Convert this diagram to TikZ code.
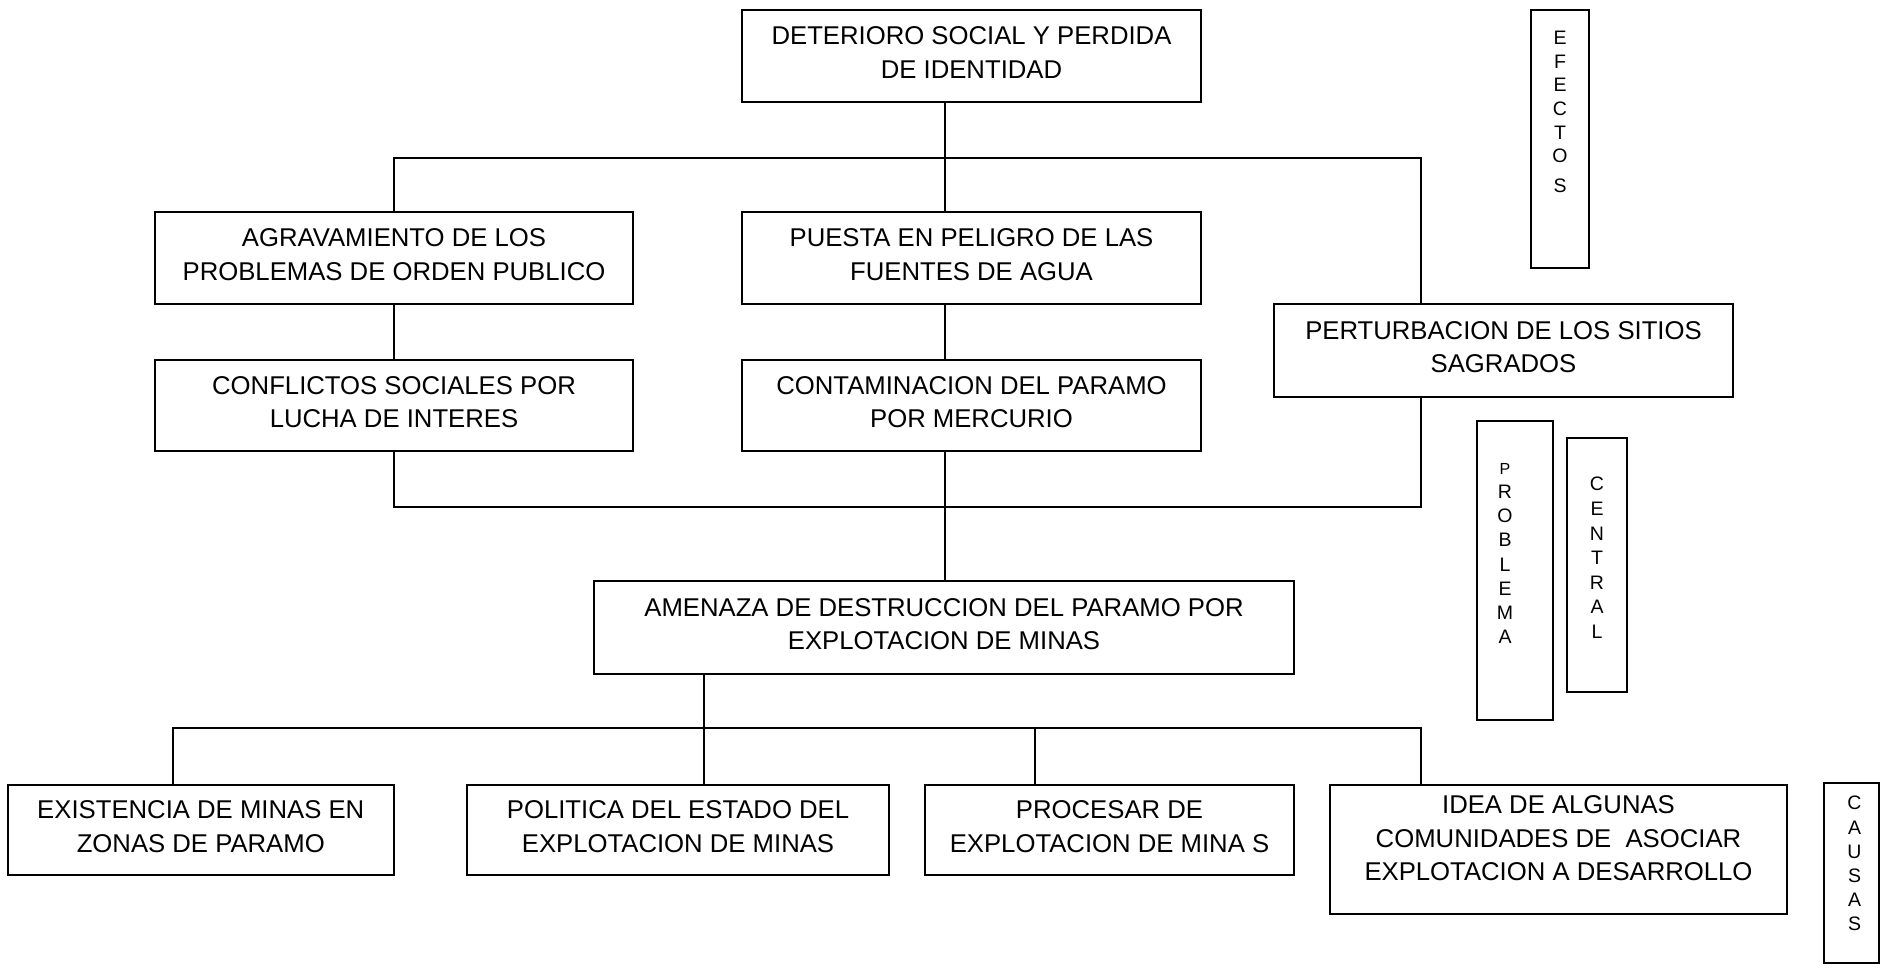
\documentclass[tikz,border=0pt]{standalone}
\usepackage{fontspec}
\setmainfont{Liberation Sans}
\begin{document}
\begin{tikzpicture}[x=1pt,y=-1pt,
  box/.style={draw=black, line width=2pt, fill=white, inner sep=0pt, align=center,
    text depth=7pt, font=\fontsize{25.7}{33.5}\selectfont},
  vbox/.style={draw=black, line width=2pt, inner sep=0pt},
  vtxt/.style={inner sep=0pt, align=center, font=\fontsize{19.5}{24.2}\selectfont},
  conn/.style={draw=black, line width=1.8pt}]
\useasboundingbox (0,0) rectangle (1887,971);

% reference x positions for the connectors
\coordinate (xc) at (945,0);
\coordinate (xr) at (1421,0);
\coordinate (xl) at (394,0);
\coordinate (xa) at (704,0);
\coordinate (xp) at (1035,0);
\coordinate (xe) at (173,0);
\coordinate (y1) at (0,158);
\coordinate (y2) at (0,507);
\coordinate (y3) at (0,728);

% effects
\node[box, minimum width=459, minimum height=92] (det) at (971.5,56)
  {DETERIORO SOCIAL Y PERDIDA\\DE IDENTIDAD};
\node[box, minimum width=478, minimum height=92] (agr) at (394,258)
  {AGRAVAMIENTO DE LOS\\PROBLEMAS DE ORDEN PUBLICO};
\node[box, minimum width=459, minimum height=92] (pue) at (971.5,258)
  {PUESTA EN PELIGRO DE LAS\\FUENTES DE AGUA};
\node[box, minimum width=459, minimum height=93] (per) at (1503.5,350.5)
  {PERTURBACION DE LOS SITIOS\\SAGRADOS};
\node[box, minimum width=478, minimum height=91] (con) at (394,405.5)
  {CONFLICTOS SOCIALES POR\\LUCHA DE INTERES};
\node[box, minimum width=459, minimum height=91] (cmer) at (971.5,405.5)
  {CONTAMINACION DEL PARAMO\\POR MERCURIO};

% central problem
\node[box, minimum width=699.5, minimum height=93] (ame) at (944,627.5)
  {AMENAZA DE DESTRUCCION DEL PARAMO POR\\EXPLOTACION DE MINAS};

% causes
\node[box, minimum width=385.5, minimum height=90] (exi) at (200.75,830)
  {EXISTENCIA DE MINAS EN\\ZONAS DE PARAMO};
\node[box, minimum width=422, minimum height=90] (pol) at (678,830)
  {POLITICA DEL ESTADO DEL\\EXPLOTACION DE MINAS};
\node[box, minimum width=369, minimum height=90] (proc) at (1109.5,830)
  {PROCESAR DE\\EXPLOTACION DE MINA S};
\node[box, minimum width=457, minimum height=129, text depth=22pt] (ide) at (1558.5,849.5)
  {IDEA DE ALGUNAS\\COMUNIDADES DE\ \ ASOCIAR\\EXPLOTACION A DESARROLLO};

% side labels
\node[vbox, minimum width=58, minimum height=258] (efe) at (1560,139) {};
\node[vtxt, anchor=north, font=\fontsize{19.5}{23.6}\selectfont] (efeT) at ([yshift=-22]efe.north)
  {E\\F\\E\\C\\T\\O\\[6pt]S};
\node[vbox, minimum width=76, minimum height=299] (prob) at (1515,570.5) {};
\node[vtxt, anchor=north] (probT) at ([xshift=-10,yshift=-43]prob.north)
  {{\fontsize{16}{20}\selectfont P}\\R\\O\\B\\L\\E\\M\\A};
\node[vbox, minimum width=60, minimum height=254] (cen) at (1597,565) {};
\node[vtxt, anchor=north, font=\fontsize{19.5}{24.6}\selectfont] (cenT) at ([yshift=-40]cen.north)
  {C\\E\\N\\T\\R\\A\\L};
\node[vbox, minimum width=55, minimum height=180] (cau) at (1851.5,873) {};
\node[vtxt, anchor=north] (cauT) at ([xshift=3,yshift=-14]cau.north)
  {C\\A\\U\\S\\A\\S};

% connectors: effects
\draw[conn] (det.south -| xc) -- (pue.north -| xc);
\draw[conn] (agr.north -| xl) -- (xl |- y1) -- (xr |- y1) -- (per.north -| xr);
\draw[conn] (agr.south -| xl) -- (con.north -| xl);
\draw[conn] (pue.south -| xc) -- (cmer.north -| xc);
\draw[conn] (con.south -| xl) -- (xl |- y2) -- (xr |- y2) -- (per.south -| xr);
\draw[conn] (cmer.south -| xc) -- (ame.north -| xc);

% connectors: causes
\draw[conn] (ame.south -| xa) -- (pol.north -| xa);
\draw[conn] (exi.north -| xe) -- (xe |- y3) -- (xr |- y3) -- (ide.north -| xr);
\draw[conn] (proc.north -| xp) -- (xp |- y3);
\end{tikzpicture}
\end{document}
